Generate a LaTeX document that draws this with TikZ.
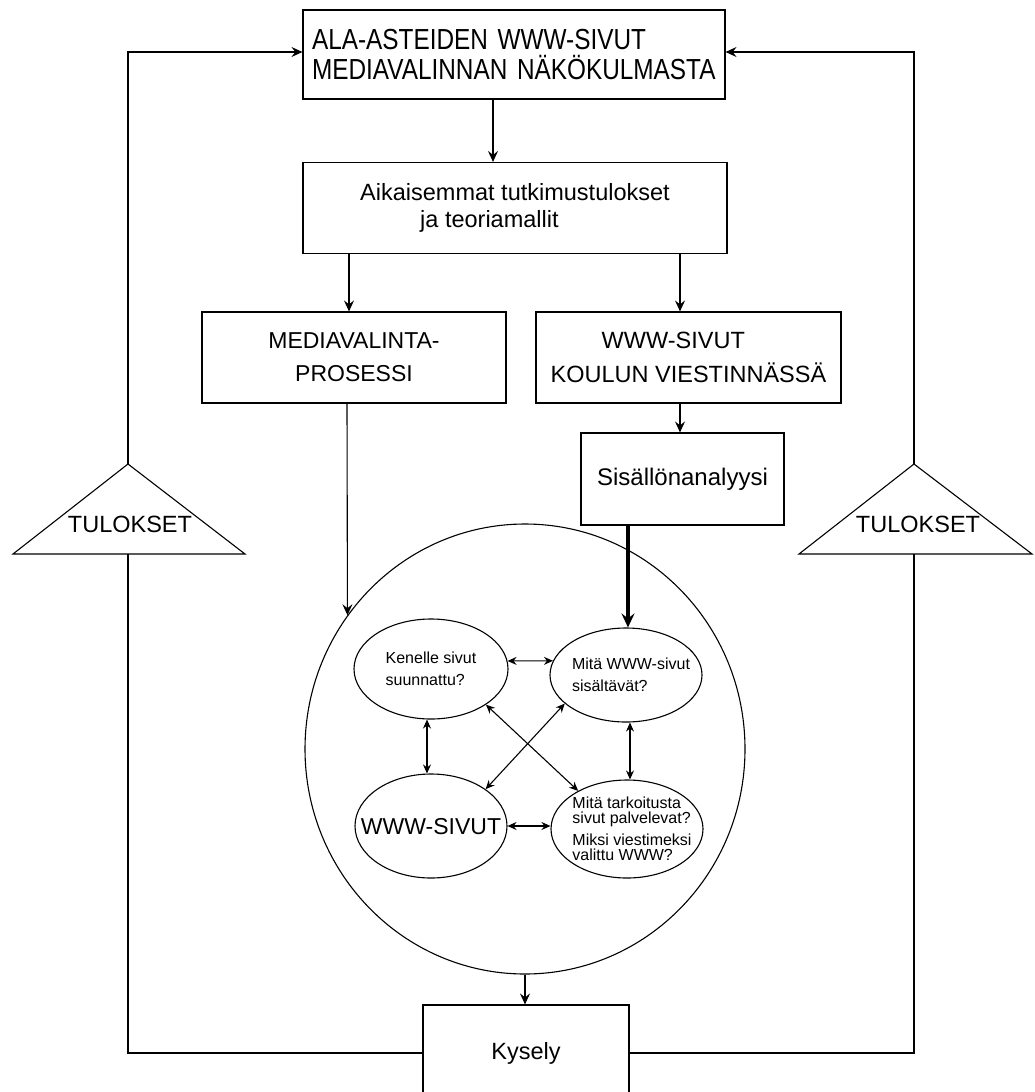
\documentclass[tikz,border=0pt]{standalone}
\usepackage{fontspec}
\setmainfont{Liberation Sans}
\newfontfamily\condfont[FakeStretch=0.84]{Liberation Sans}
\usetikzlibrary{arrows.meta,shapes.geometric}
\begin{document}
\begin{tikzpicture}[x=1pt,y=-1pt, line width=1.1pt,
  box/.style={draw, rectangle, inner sep=0pt, align=center},
  oval/.style={draw, ellipse, inner sep=0pt},
  arr/.style={-{Stealth[length=11pt,width=10pt,inset=4pt]}},
  darr/.style={{Stealth[length=9pt,width=8pt,inset=3pt]}-{Stealth[length=9pt,width=8pt,inset=3pt]}},
  thickarr/.style={line width=4pt,-{Stealth[length=14pt,width=13pt,inset=5pt]}},
  small/.style={font=\fontsize{16}{22}\selectfont, align=left, inner sep=0pt},
]
\useasboundingbox (0,0) rectangle (1034,1092);

% boxes
\node[box, minimum width=422pt, minimum height=89pt, text width=404pt, align=left,
      font=\condfont\fontsize{29}{30}\selectfont] (top) at (514,54.5)
      {ALA-ASTEIDEN WWW-SIVUT\\MEDIAVALINNAN NÄKÖKULMASTA};
\node[box, minimum width=424pt, minimum height=91pt, align=left,
      font=\fontsize{23.5}{27}\selectfont]
      (prev) at (515,208) {Aikaisemmat tutkimustulokset\\\hspace*{60pt}ja teoriamallit};
\node[box, minimum width=304pt, minimum height=91pt, font=\fontsize{23}{33}\selectfont]
      (media) at (354,357.5) {MEDIAVALINTA-\\PROSESSI};
\node[box, minimum width=305pt, minimum height=91pt, align=left,
      font=\fontsize{23.5}{34}\selectfont]
      (wwwk) at (688.5,357.5) {\hspace*{51pt}WWW-SIVUT\\KOULUN VIESTINNÄSSÄ};
\node[box, minimum width=203pt, minimum height=92pt, font=\fontsize{24}{28}\selectfont]
      (sis) at (682.5,479) {Sisällönanalyysi};
\node[box, minimum width=206pt, minimum height=96pt, font=\fontsize{23.5}{28}\selectfont]
      (kysely) at (526,1053) {Kysely};

% big circle and inner ellipses
\node[oval, minimum width=440pt, minimum height=450pt] (big) at (525,749) {};
\node[oval, minimum width=154pt, minimum height=100pt,
      label={[small]center:Kenelle sivut\\suunnattu?}] (e1) at (431,669) {};
\node[oval, minimum width=152pt, minimum height=94pt,
      label={[small, xshift=5pt]center:Mitä WWW-sivut\\sisältävät?}] (e2) at (626,675) {};
\node[oval, minimum width=152pt, minimum height=104pt,
      label={[font=\fontsize{23}{28}\selectfont, inner sep=0pt, yshift=-1pt]center:WWW-SIVUT}] (e3) at (431,826) {};
\node[oval, minimum width=152pt, minimum height=98pt,
      label={[small, font=\fontsize{16}{15.5}\selectfont, xshift=5pt]center:Mitä tarkoitusta\\sivut palvelevat?\\[6pt]Miksi viestimeksi\\valittu WWW?}] (e4) at (627,829) {};

% triangles
\draw (128,464) -- (245,554) -- (13,554) -- cycle;
\coordinate (ltop) at (128,464);
\coordinate (lbase) at (128,554);
\node[font=\fontsize{23.5}{28}\selectfont, inner sep=0pt] (ltext) at (130,524.6) {TULOKSET};
\draw (914,464) -- (1032,554) -- (799,554) -- cycle;
\coordinate (rtop) at (914,464);
\coordinate (rbase) at (914,554);
\node[font=\fontsize{23.5}{28}\selectfont, inner sep=0pt] (rtext) at (918,524.6) {TULOKSET};

% connectors
\draw[arr] ([xshift=-21pt]top.south) -- ([xshift=-22pt]prev.north);
\draw[arr] ([xshift=-166pt]prev.south) -- ([xshift=-5pt]media.north);
\draw[arr] ([xshift=165pt]prev.south) -- ([xshift=-8.5pt]wwwk.north);
\draw[arr] ([xshift=-8.5pt]wwwk.south) -- ([xshift=-2.5pt]sis.north);
\draw[arr] ([xshift=-7pt]media.south) -- (big.143.4);
\draw[thickarr] ([xshift=-54.5pt]sis.south) -- ([xshift=2pt]e2.north);
\draw[darr] (e1.6) -- (e2.169);
\draw[darr] ([xshift=-4pt]e1.south) -- ([xshift=-4pt]e3.north);
\draw[darr] ([xshift=4pt]e2.south) -- ([xshift=3pt]e4.north);
\draw[darr] (e1.-33.7) -- (e4.142.8);
\draw[darr] (e2.205.4) -- (e3.34.4);
\draw[darr] (e3.east) -- (e4.west |- e3.east);
\draw[arr] (big.south) -- (big.south |- kysely.north);
\draw (kysely.west) -| (lbase);
\draw[arr] (ltop) |- ([yshift=2.5pt]top.west);
\draw (kysely.east) -| (rbase);
\draw[arr] (rtop) |- ([yshift=2.5pt]top.east);
\end{tikzpicture}
\end{document}
